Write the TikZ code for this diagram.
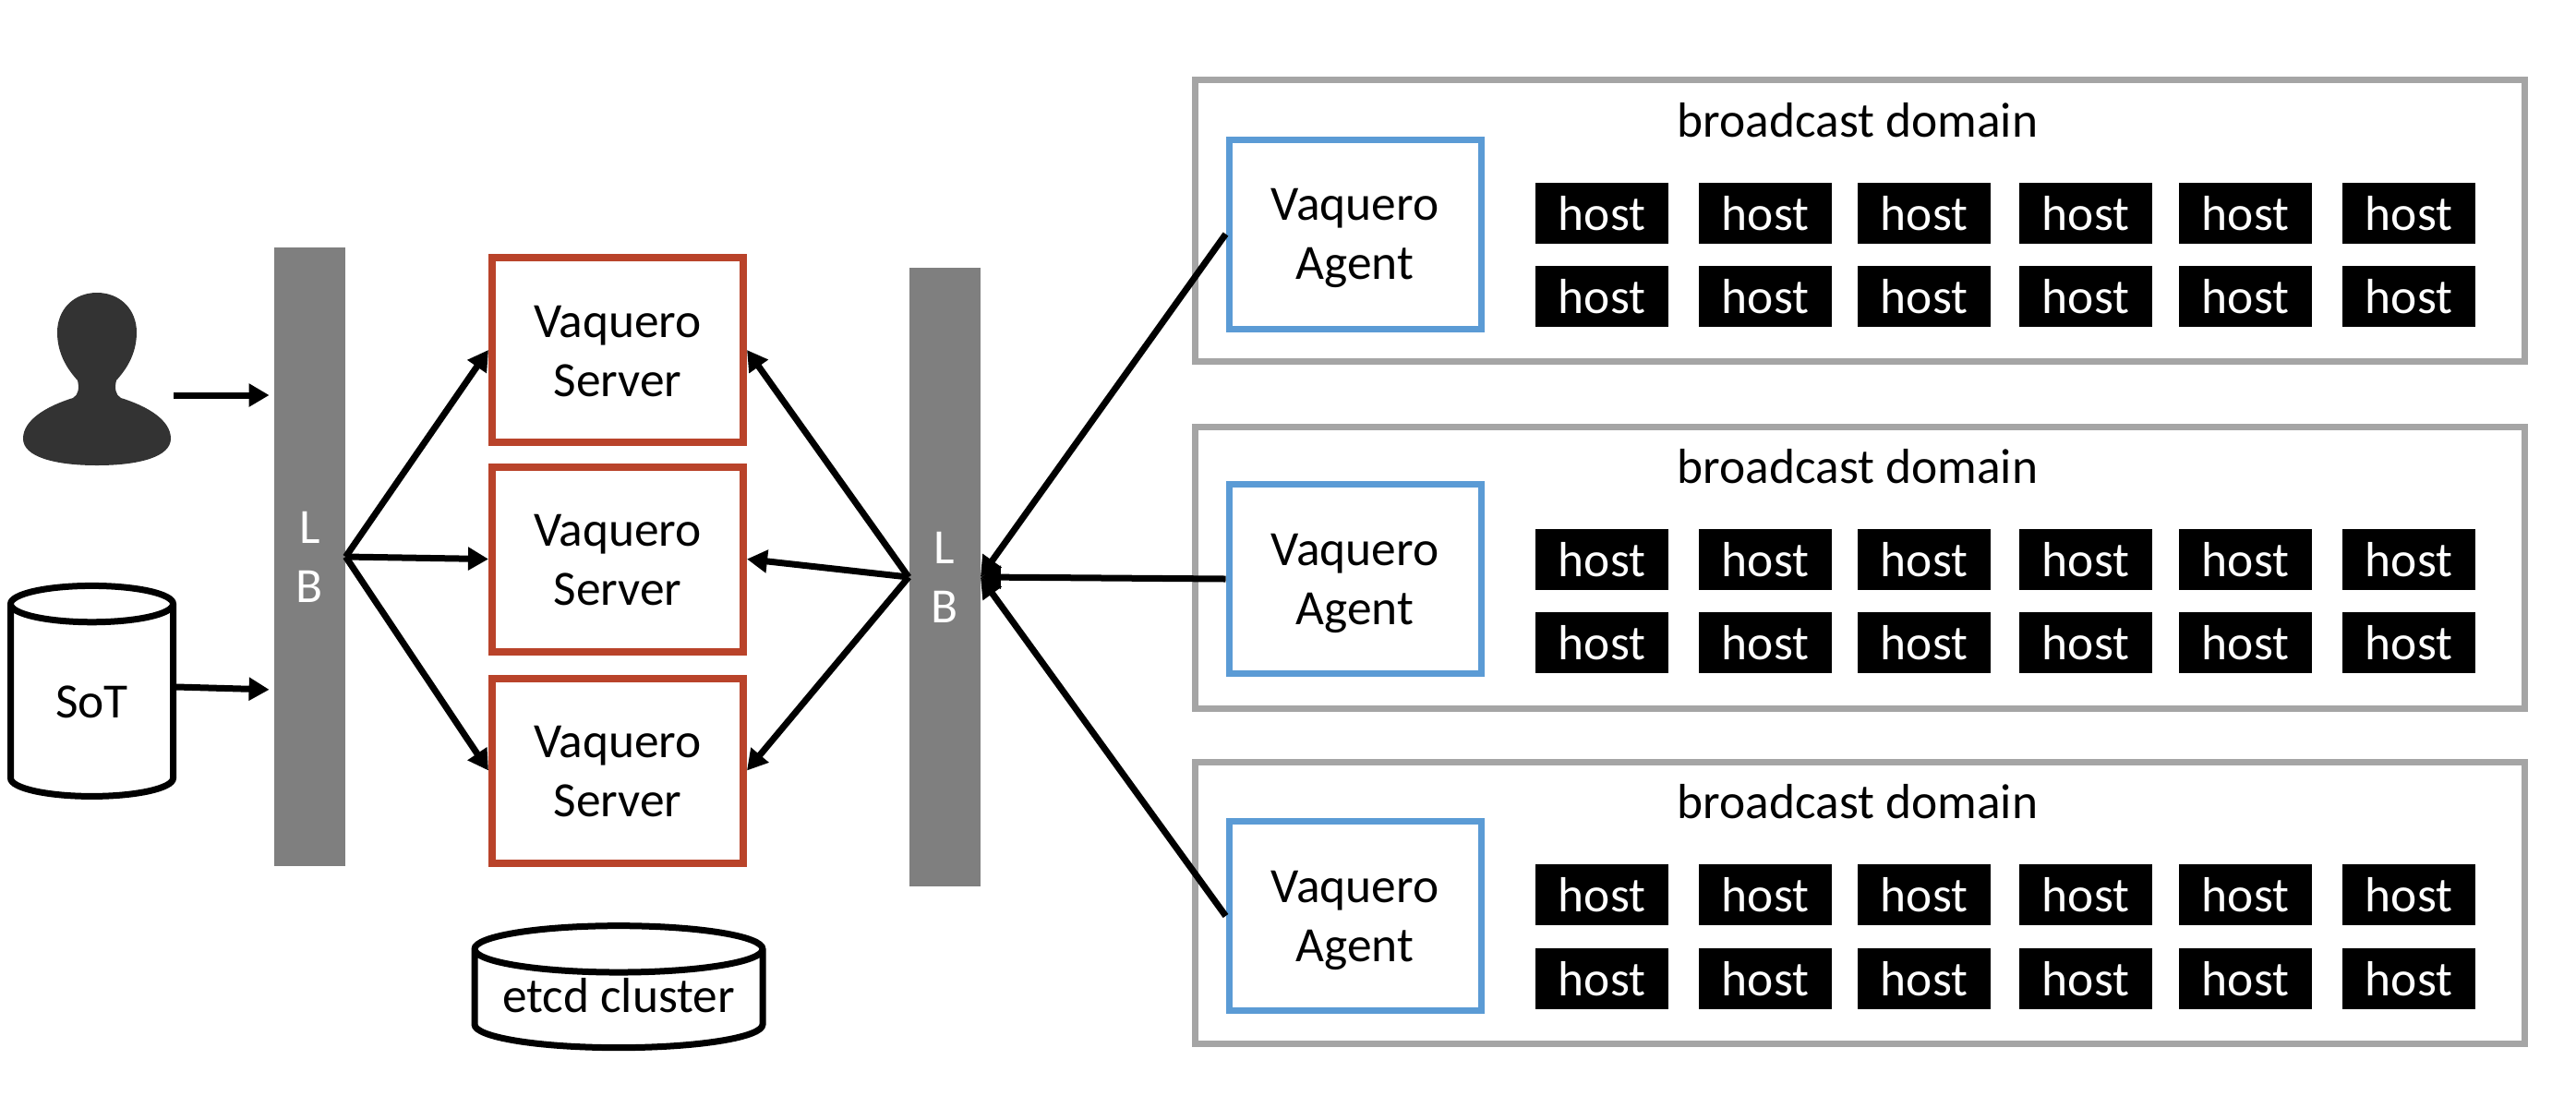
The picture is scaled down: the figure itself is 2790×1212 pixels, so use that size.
\documentclass[tikz,border=0pt]{standalone}
\usepackage{fontspec}
\setmainfont{Carlito}
\usepackage{tikz}
\usetikzlibrary{arrows.meta,positioning,shapes.geometric}
\definecolor{ServerRed}{HTML}{B9432A}
\definecolor{AgentBlue}{HTML}{5B9BD5}
\definecolor{DomainGray}{HTML}{A5A5A5}
\definecolor{LbGray}{HTML}{7F7F7F}
\definecolor{UserDark}{HTML}{333333}

\begin{document}
\begin{tikzpicture}[x=0.5pt,y=-0.5pt, every node/.style={font=\fontsize{26.7}{32}\selectfont,align=center,inner sep=0pt}, lbbar/.style={fill=LbGray,text=white,minimum width=38.5pt}, server/.style={draw=ServerRed,line width=4pt,fill=white,minimum width=136pt,minimum height=100pt,text height=50.5pt}, agent/.style={draw=AgentBlue,line width=3.5pt,fill=white,minimum width=136.5pt,minimum height=102.5pt,text height=54pt}, domainbox/.style={draw=DomainGray,line width=3.5pt,minimum width=720pt,minimum height=152.5pt}, hostbox/.style={fill=black,text=white,minimum width=72pt,minimum height=33pt}, store/.style={draw,line width=3.5pt,fill=white,cylinder,shape border rotate=90}, link/.style={-{Triangle[length=11pt,width=12pt]},line width=3.5pt}]
\useasboundingbox (0,0) rectangle (2790,1212);
% the three domains with their agents
\node[domainbox] (dom1) at (2014.5,239) {};
\node[domainbox] (dom2) at (2014.5,614.5) {};
\node[domainbox] (dom3) at (2014.5,978) {};
\node (cast1) at (2012,130) {broadcast domain};
\node (cast2) at (2012,505) {broadcast domain};
\node (cast3) at (2012,868) {broadcast domain};
\node[agent] (agent1) at (1467.5,253.5) {Vaquero\\Agent};
\node[agent] (agent2) at (1467.5,627) {Vaquero\\Agent};
\node[agent] (agent3) at (1467.5,992) {Vaquero\\Agent};
% hosts
\foreach \d/\ya/\yb in {1/231/321,2/606/696,3/969/1060}
  \foreach \c/\xa in {1/1735,2/1912,3/2084,4/2259,5/2432,6/2609} {
    \node[hostbox] (host\d\c a) at (\xa,\ya) {host};
    \node[hostbox] (host\d\c b) at (\xa,\yb) {host};
  }
% load balancers and servers
\node[lbbar,minimum height=335pt] (lbleft) at (335.5,603) {L\\B};
\node[lbbar,minimum height=335pt] (lbright) at (1023,625) {L\\B};
\node[server] (srv1) at (669,379) {Vaquero\\Server};
\node[server] (srv2) at (669,605.5) {Vaquero\\Server};
\node[server] (srv3) at (669,834.5) {Vaquero\\Server};
\node[store,minimum width=88pt,minimum height=114pt,aspect=.5] (sot) at (99.5,760) {SoT};
\node[store,minimum width=156pt,minimum height=66pt,aspect=.2,text depth=5.4pt] (etcd) at (670,1083) {etcd cluster};
% user
\fill[UserDark] (105,317) .. controls (130,317) and (148,335) .. (148,360) .. controls (148,385) and (135,402) .. (126,412) .. controls (124,420) and (125,428) .. (131,431) .. controls (160,440) and (185,455) .. (185,475) .. controls (185,495) and (150,504) .. (105,504) .. controls (60,504) and (25,495) .. (25,475) .. controls (25,455) and (50,440) .. (79,431) .. controls (85,428) and (86,420) .. (84,412) .. controls (75,402) and (62,385) .. (62,360) .. controls (62,335) and (80,317) .. (105,317) -- cycle;
\coordinate (userout) at (188,428);
% connectors
\draw[link,shorten >=2.5pt] (userout) -- (userout -| lbleft.west);
\draw[link,shorten >=2.5pt] ([yshift=8pt]sot.east) -- ([yshift=6.5pt]sot.east -| lbleft.west);
\draw[link] (lbleft.east) -- (srv1.west);
\draw[link] (lbleft.east) -- (srv2.west);
\draw[link] (lbleft.east) -- (srv3.west);
\draw[link] (lbright.west) -- (srv1.east);
\draw[link] (lbright.west) -- (srv2.east);
\draw[link] (lbright.west) -- (srv3.east);
\draw[link] (agent1.west) -- (lbright.east);
\draw[link] (agent2.west) -- (lbright.east);
\draw[link] (agent3.west) -- (lbright.east);
\end{tikzpicture}
\end{document}
